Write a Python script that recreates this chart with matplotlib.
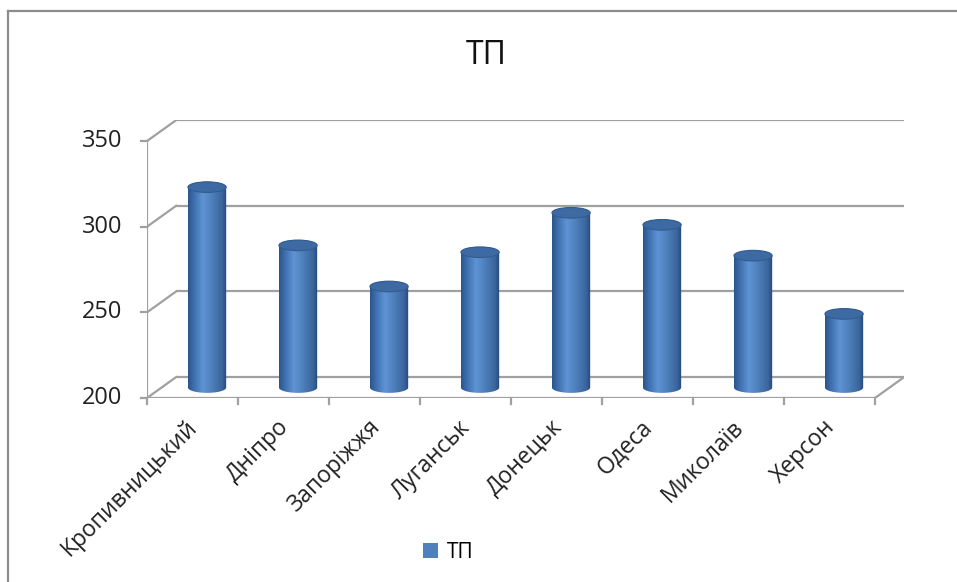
import matplotlib
matplotlib.use("Agg")
import matplotlib.pyplot as plt
import numpy as np
from matplotlib.colors import LinearSegmentedColormap
from matplotlib.patches import PathPatch, Ellipse, Patch
from matplotlib.path import Path
from matplotlib.lines import Line2D

plt.rcParams['font.family'] = ['Open Sans', 'DejaVu Sans']

# data
categories = ['Кропивницький', 'Дніпро', 'Запоріжжя', 'Луганськ',
              'Донецьк', 'Одеса', 'Миколаїв', 'Херсон']
values = [317, 283, 259, 279, 302, 295, 277, 243]
series_name = 'ТП'
title = 'ТП'
y_ticks = [200, 250, 300, 350]

# pseudo 3d settings (in data units)
DX = 0.32      # depth offset along x (categories)
DY = 12.2      # depth offset along y (values)
bar_w = 0.42
ell_h = 6.2

grid_col = '#A0A0A0'
dark = '#2B548A'
mid = '#4F81BD'
light = '#5E93D4'

W, H = 957, 582
fig = plt.figure(figsize=(W / 100, H / 100), dpi=100)

# axes placed so that front 200 sits at y=398px, left axis at x=147px
px_x = 91.0
px_y = 1.713
left_px, bottom_px = 147, 398
n = len(categories)
ax_w = px_x * (n + DX)
ax_h = px_y * (y_ticks[-1] - y_ticks[0] + DY)
ax = fig.add_axes([left_px / W, (H - bottom_px) / H, ax_w / W, ax_h / H])
ax.set_xlim(0, n + DX)
ax.set_ylim(y_ticks[0], y_ticks[-1] + DY)
ax.axis('off')

lw = 1.6
# back wall gridlines + left wall diagonals
for v in y_ticks:
    ax.plot([DX, n + DX], [v + DY, v + DY], color=grid_col, lw=lw, zorder=1,
            solid_capstyle='butt')
    ax.plot([0, DX], [v, v + DY], color=grid_col, lw=lw, zorder=1)
    # y tick mark
    ax.plot([-0.07, 0], [v, v], color=grid_col, lw=lw, zorder=1, clip_on=False)
    ax.text(-0.27, v, str(v), ha='right', va='center', fontsize=17,
            color='#222222', clip_on=False)

# front vertical axis and floor
y0 = y_ticks[0]
ax.plot([0, 0], [y0, y_ticks[-1]], color=grid_col, lw=lw, zorder=1)
ax.plot([0, n], [y0, y0], color=grid_col, lw=lw, zorder=1)
ax.plot([n, n + DX], [y0, y0 + DY], color=grid_col, lw=lw, zorder=1)
for i in range(n + 1):
    ax.plot([i, i], [y0, y0 - 3.6], color=grid_col, lw=lw, zorder=1,
            clip_on=False)

cmap = LinearSegmentedColormap.from_list(
    'cyl', [(0, dark), (0.12, '#3A6AA8'), (0.38, light), (0.6, mid),
            (0.88, '#3A659C'), (1, '#24487A')])
grad = np.linspace(0, 1, 200).reshape(1, -1)


def cylinder(xc, base, top, z):
    rx, ry = bar_w / 2, ell_h / 2
    t1 = np.linspace(np.pi, 2 * np.pi, 60)
    t2 = np.linspace(0, np.pi, 60)
    xs = np.concatenate([xc + rx * np.cos(t1), xc + rx * np.cos(t2)])
    ys = np.concatenate([base + ry * np.sin(t1), top + ry * np.sin(t2)])
    verts = np.column_stack([xs, ys])
    path = Path(np.vstack([verts, verts[:1]]), closed=True)
    body = PathPatch(path, facecolor='none', edgecolor='none', zorder=z)
    ax.add_patch(body)
    im = ax.imshow(grad, cmap=cmap, aspect='auto', zorder=z,
                   extent=[xc - rx, xc + rx, base - ry, top + ry],
                   interpolation='bilinear')
    im.set_clip_path(body)
    cap = Ellipse((xc, top), 2 * rx, 2 * ry, facecolor='#3D6AA2',
                  edgecolor='#335C90', lw=0.8, zorder=z + 0.5)
    ax.add_patch(cap)


for i, v in enumerate(values):
    xc = i + 0.5 + DX / 2
    cylinder(xc, y0 + DY / 2, v + DY / 2, 3 + i * 0.01)

ax.set_xlim(0, n + DX)
ax.set_ylim(y_ticks[0], y_ticks[-1] + DY)

# category labels
for i, c in enumerate(categories):
    ax.text(i + 0.52, y0 - 15, c, rotation=45, rotation_mode='anchor',
            ha='right', va='center', fontsize=16.5, color='#222222',
            clip_on=False)

# title
fig.text(486 / W, 1 - 55 / H, title, ha='center', va='center', fontsize=23,
         color='#111111')

# legend
fig.legend(handles=[Patch(facecolor=mid, edgecolor='none')],
           labels=[series_name], loc='center',
           bbox_to_anchor=(448 / W, 1 - 552 / H), frameon=False,
           fontsize=15, handlelength=0.75, handleheight=0.75,
           handletextpad=0.4)

# chart border (top and left visible)
fig.add_artist(Line2D([8 / W, 8 / W], [0, 1 - 11 / H], transform=fig.transFigure,
                      color='#8C8C8C', lw=1.6))
fig.add_artist(Line2D([8 / W, 1], [1 - 11 / H, 1 - 11 / H],
                      transform=fig.transFigure, color='#8C8C8C', lw=1.6))

fig.savefig('out.png', dpi=100, facecolor='white')
